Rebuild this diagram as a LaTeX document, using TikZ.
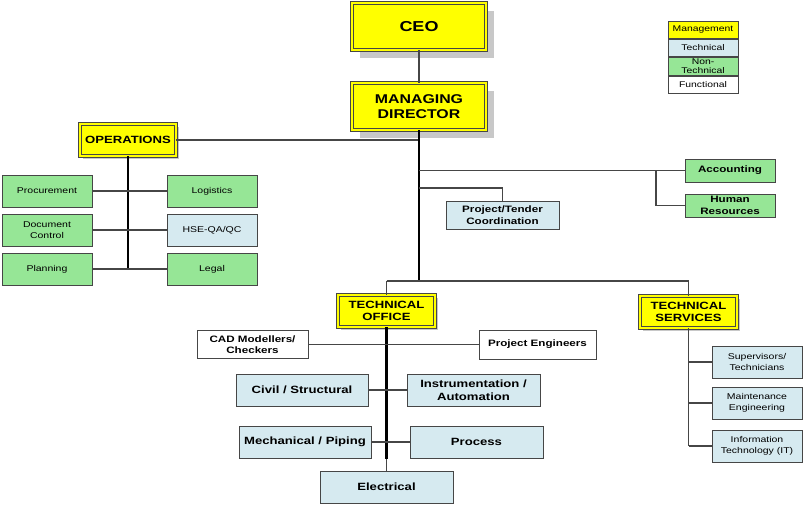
\documentclass[tikz,border=0pt]{standalone}
\usepackage{fontspec}
\setmainfont{Liberation Sans}[FakeStretch=1.25]
\usetikzlibrary{shadows}
\definecolor{mgmt}{RGB}{255,255,0}
\definecolor{tech}{RGB}{214,234,240}
\definecolor{ntech}{RGB}{150,230,150}
\definecolor{bord}{RGB}{70,70,70}
\definecolor{shd}{RGB}{200,200,200}
\begin{document}
\begin{tikzpicture}[x=1pt,y=-1pt,
  box/.style={draw=bord,line width=1pt,inner sep=1pt,align=center,font=\fontsize{8.4}{10.5}\selectfont},
  mgmtbox/.style={box,fill=mgmt,draw=bord,double=mgmt,double distance=1.8pt,line width=0.8pt,font=\bfseries\fontsize{10.5}{12.5}\selectfont},
  bigshadow/.style={drop shadow={shadow xshift=8pt,shadow yshift=-8pt,fill=shd,opacity=1}},
  smallshadow/.style={drop shadow={shadow xshift=3pt,shadow yshift=-3pt,fill=shd,opacity=1}},
  techbox/.style={box,fill=tech},
  ntechbox/.style={box,fill=ntech},
  funcbox/.style={box,fill=white},
  boldm/.style={font=\bfseries\fontsize{9.3}{11.5}\selectfont},
  boldl/.style={font=\bfseries\fontsize{10.5}{12.5}\selectfont},
  trunk/.style={line width=2.6pt,black},
  branch/.style={line width=1.3pt,bord},
  legend/.style={draw=bord,line width=0.8pt,inner sep=0pt,minimum width=70,align=center,font=\fontsize{8.3}{8.6}\selectfont}
]
\useasboundingbox (0,0) rectangle (805,506);
% management
\node[mgmtbox,bigshadow,minimum width=134,minimum height=47,font=\bfseries\fontsize{14.4}{16}\selectfont] (ceo) at (419,26.5) {CEO};
\node[mgmtbox,bigshadow,minimum width=134,minimum height=47,font=\bfseries\fontsize{12.7}{15}\selectfont] (md) at (419,106.5) {MANAGING\\DIRECTOR};
\node[mgmtbox,smallshadow,minimum width=96,minimum height=32] (ops) at (128,140) {OPERATIONS};
\node[mgmtbox,smallshadow,minimum width=97,minimum height=32] (to) at (386.5,311) {TECHNICAL\\OFFICE};
\node[mgmtbox,smallshadow,minimum width=97,minimum height=32] (ts) at (688.5,312) {TECHNICAL\\SERVICES};
% operations children
\node[ntechbox,minimum width=90,minimum height=32] (proc) at (47,191) {Procurement};
\node[ntechbox,minimum width=90,minimum height=32] (logi) at (212,191) {Logistics};
\node[ntechbox,minimum width=90,minimum height=32] (doc) at (47,230) {Document\\Control};
\node[techbox,minimum width=90,minimum height=32] (hse) at (212,230) {HSE-QA/QC};
\node[ntechbox,minimum width=90,minimum height=32] (plan) at (47,269) {Planning};
\node[ntechbox,minimum width=90,minimum height=32] (legal) at (212,269) {Legal};
% md children
\node[ntechbox,boldm,minimum width=90,minimum height=23] (acc) at (730,170.5) {Accounting};
\node[ntechbox,boldm,minimum width=90,minimum height=23] (hr) at (730,205.5) {Human\\Resources};
\node[techbox,boldm,minimum width=113,minimum height=28] (ptc) at (502.5,215) {Project/Tender\\Coordination};
% technical office children
\node[funcbox,boldm,minimum width=111,minimum height=28] (cad) at (252.5,344.5) {CAD Modellers/\\Checkers};
\node[funcbox,boldm,minimum width=117,minimum height=29] (pe) at (537.5,344.5) {Project Engineers};
\node[techbox,boldl,minimum width=132,minimum height=32] (civ) at (302,390) {Civil / Structural};
\node[techbox,boldl,minimum width=133,minimum height=32] (ins) at (473.5,390) {Instrumentation /\\Automation};
\node[techbox,boldl,minimum width=132,minimum height=32] (mech) at (305,442) {Mechanical / Piping};
\node[techbox,boldl,minimum width=133,minimum height=32] (proc2) at (476.5,442) {Process};
\node[techbox,boldl,minimum width=133,minimum height=32] (elec) at (386.5,487) {Electrical};
% technical services children
\node[techbox,minimum width=90,minimum height=32] (sup) at (757,362) {Supervisors/\\Technicians};
\node[techbox,minimum width=90,minimum height=32] (mnt) at (757,403) {Maintenance\\Engineering};
\node[techbox,minimum width=90,minimum height=32] (it) at (757,446) {Information\\Technology (IT)};
% legend
\node[legend,fill=mgmt,minimum height=17] (lm) at (703,30) {Management};
\node[legend,fill=tech,minimum height=17,anchor=north] (lt) at (lm.south) {Technical};
\node[legend,fill=ntech,minimum height=18,anchor=north] (ln) at (lt.south) {Non-\\Technical};
\node[legend,fill=white,minimum height=17,anchor=north] (lf) at (ln.south) {Functional};
% coordinates
\coordinate (jto) at (386.5,281);
\coordinate (jts) at (688.5,281);
\coordinate (jacc) at (656,170.5);
\coordinate (jptc2) at (502.5,188);
% connectors
\draw[branch] (ceo) -- (md);
\draw[branch] (ops.east) -- (ops.east -| md.south);
\draw[trunk] (md.south) -- (md.south |- jto);
\draw[branch] (jto) -- (jts);
\draw[branch] (jto) -- (to.north);
\draw[branch] (jts) -- (ts.north);
\draw[branch] (acc.west -| md.south) -- (acc.west);
\draw[branch] (jacc) |- (hr.west);
\draw[branch] (md.south |- jptc2) -- (jptc2) -- (ptc.north);
\draw[trunk] (ops.south) -- (ops.south |- plan.east);
\draw[branch] (proc.east) -- (logi.west);
\draw[branch] (doc.east) -- (hse.west);
\draw[branch] (plan.east) -- (legal.west);
\draw[trunk] (to.south) -- (to.south |- mech.south);
\draw[branch] (to.south |- mech.south) -- (elec.north);
\draw[branch] (cad.east) -- (pe.west);
\draw[branch] (civ.east) -- (ins.west);
\draw[branch] (mech.east) -- (proc2.west);
\draw[branch] (ts.south) -- (ts.south |- it.west);
\draw[branch] (ts.south |- sup.west) -- (sup.west);
\draw[branch] (ts.south |- mnt.west) -- (mnt.west);
\draw[branch] (ts.south |- it.west) -- (it.west);
\end{tikzpicture}
\end{document}
